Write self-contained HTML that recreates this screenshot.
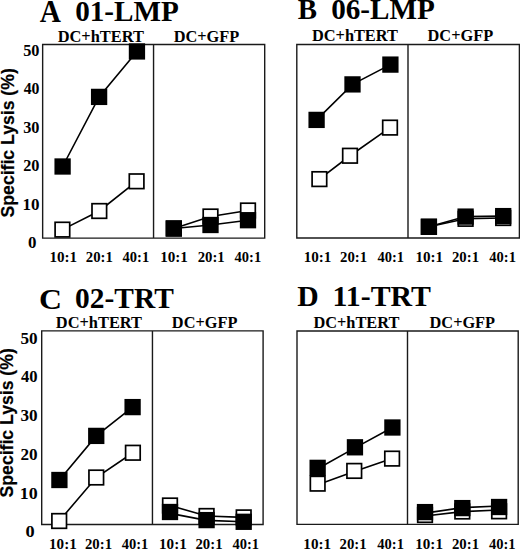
<!DOCTYPE html>
<html><head><meta charset="utf-8"><style>
html,body{margin:0;padding:0;background:#fff;width:520px;height:549px;overflow:hidden}
svg{display:block}
.S{font-family:"Liberation Serif",serif;font-weight:bold;font-size:100px;fill:#000}
.A{font-family:"Liberation Sans",sans-serif;font-weight:bold;font-size:100px;fill:#000;stroke:#000;stroke-width:0.2px;vector-effect:non-scaling-stroke}
.fr{fill:none;stroke:#1a1a1a;stroke-width:1.4}
.ln{fill:none;stroke:#000;stroke-width:1.6}
.mf{fill:#000}
.mo{fill:#fff;stroke:#000;stroke-width:1.7}
</style></head><body>
<svg width="520" height="549" viewBox="0 0 520 549">
<text class="S" transform="translate(39.71 21.90) scale(0.2930 0.3061)">A</text>
<text class="S" transform="translate(75.13 21.41) scale(0.2917 0.2940)">01-LMP</text>
<text class="S" transform="translate(297.71 19.31) scale(0.2889 0.2864)">B</text>
<text class="S" transform="translate(331.13 19.11) scale(0.2920 0.2925)">06-LMP</text>
<text class="S" transform="translate(39.11 308.50) scale(0.3183 0.3015)">C</text>
<text class="S" transform="translate(75.02 308.21) scale(0.2945 0.2925)">02-TRT</text>
<text class="S" transform="translate(297.31 306.21) scale(0.2970 0.2924)">D</text>
<text class="S" transform="translate(332.51 306.31) scale(0.2984 0.2910)">11-TRT</text>
<text class="S" transform="translate(57.67 41.64) scale(0.1641 0.1600)">DC+hTERT</text>
<text class="S" transform="translate(173.67 41.64) scale(0.1635 0.1612)">DC+GFP</text>
<text class="S" transform="translate(311.97 40.64) scale(0.1635 0.1614)">DC+hTERT</text>
<text class="S" transform="translate(427.57 40.64) scale(0.1635 0.1612)">DC+GFP</text>
<text class="S" transform="translate(55.87 327.64) scale(0.1639 0.1629)">DC+hTERT</text>
<text class="S" transform="translate(171.87 327.64) scale(0.1632 0.1612)">DC+GFP</text>
<text class="S" transform="translate(313.47 327.64) scale(0.1635 0.1600)">DC+hTERT</text>
<text class="S" transform="translate(429.57 327.64) scale(0.1632 0.1582)">DC+GFP</text>
<text class="S" transform="translate(23.15 55.53) scale(0.1630 0.1618)">50</text>
<text class="S" transform="translate(23.64 94.13) scale(0.1579 0.1618)">40</text>
<text class="S" transform="translate(23.15 132.73) scale(0.1630 0.1618)">30</text>
<text class="S" transform="translate(23.15 171.33) scale(0.1630 0.1618)">20</text>
<text class="S" transform="translate(22.44 209.93) scale(0.1705 0.1618)">10</text>
<text class="S" transform="translate(28.12 248.47) scale(0.1690 0.1632)">0</text>
<text class="S" transform="translate(20.41 343.56) scale(0.1717 0.1676)">50</text>
<text class="S" transform="translate(20.93 382.36) scale(0.1663 0.1676)">40</text>
<text class="S" transform="translate(20.41 421.16) scale(0.1717 0.1676)">30</text>
<text class="S" transform="translate(20.41 459.96) scale(0.1717 0.1676)">20</text>
<text class="S" transform="translate(19.66 498.76) scale(0.1795 0.1676)">10</text>
<text class="S" transform="translate(25.57 537.17) scale(0.1833 0.1662)">0</text>
<text class="S" transform="translate(49.44 261.99) scale(0.1512 0.1529)">10:1</text>
<text class="S" transform="translate(85.86 261.99) scale(0.1477 0.1529)">20:1</text>
<text class="S" transform="translate(122.60 261.99) scale(0.1452 0.1529)">40:1</text>
<text class="S" transform="translate(160.14 261.99) scale(0.1512 0.1529)">10:1</text>
<text class="S" transform="translate(197.66 261.99) scale(0.1477 0.1529)">20:1</text>
<text class="S" transform="translate(234.60 261.99) scale(0.1452 0.1529)">40:1</text>
<text class="S" transform="translate(303.64 261.99) scale(0.1512 0.1529)">10:1</text>
<text class="S" transform="translate(340.06 261.99) scale(0.1477 0.1529)">20:1</text>
<text class="S" transform="translate(377.50 261.99) scale(0.1452 0.1529)">40:1</text>
<text class="S" transform="translate(415.44 261.99) scale(0.1512 0.1529)">10:1</text>
<text class="S" transform="translate(451.96 261.99) scale(0.1477 0.1529)">20:1</text>
<text class="S" transform="translate(489.30 261.99) scale(0.1452 0.1529)">40:1</text>
<text class="S" transform="translate(49.04 548.59) scale(0.1512 0.1544)">10:1</text>
<text class="S" transform="translate(84.96 548.59) scale(0.1477 0.1544)">20:1</text>
<text class="S" transform="translate(121.70 548.59) scale(0.1452 0.1544)">40:1</text>
<text class="S" transform="translate(159.04 548.59) scale(0.1512 0.1544)">10:1</text>
<text class="S" transform="translate(195.46 548.59) scale(0.1477 0.1544)">20:1</text>
<text class="S" transform="translate(232.40 548.59) scale(0.1452 0.1544)">40:1</text>
<text class="S" transform="translate(303.34 548.59) scale(0.1512 0.1544)">10:1</text>
<text class="S" transform="translate(339.56 548.59) scale(0.1477 0.1544)">20:1</text>
<text class="S" transform="translate(377.30 548.59) scale(0.1452 0.1544)">40:1</text>
<text class="S" transform="translate(415.24 548.59) scale(0.1512 0.1544)">10:1</text>
<text class="S" transform="translate(451.96 548.59) scale(0.1477 0.1544)">20:1</text>
<text class="S" transform="translate(488.90 548.59) scale(0.1452 0.1544)">40:1</text>
<text class="A" transform="translate(14.18 217.43) rotate(-90) scale(0.1764)">Specific Lysis (%)</text>
<text class="A" transform="translate(13.47 497.43) rotate(-90) scale(0.1763)">Specific Lysis (%)</text>
<path class="fr" d="M42.65 44.5H264.7V238.1H42.65ZM153.55 44.5V238.1"/>
<path class="fr" d="M296.8 44.5H519.4V238.0H296.8ZM408.0 44.5V238.0"/>
<path class="fr" d="M41.7 330.9H263.1V524.5H41.7ZM152.45 330.9V524.5"/>
<path class="fr" d="M297.0 331.0H518.2V524.4H297.0ZM407.5 331.0V524.4"/>
<path class="ln" d="M62.4 229.6 L99.3 211.0 L136.6 181.3"/>
<path class="ln" d="M62.6 166.5 L99.1 96.9 L136.95 51.45"/>
<path class="ln" d="M173.8 228.5 L210.5 216.5 L248.0 210.5"/>
<path class="ln" d="M173.8 228.5 L210.5 225.0 L248.0 220.2"/>
<rect class="mo" x="55.10" y="222.30" width="14.60" height="14.60"/>
<rect class="mo" x="92.00" y="203.70" width="14.60" height="14.60"/>
<rect class="mo" x="129.30" y="174.00" width="14.60" height="14.60"/>
<rect class="mf" x="54.45" y="158.35" width="16.3" height="16.3"/>
<rect class="mf" x="90.95" y="88.75" width="16.3" height="16.3"/>
<rect class="mf" x="128.80" y="43.30" width="16.3" height="16.3"/>
<rect class="mo" x="166.50" y="221.20" width="14.60" height="14.60"/>
<rect class="mo" x="203.20" y="209.20" width="14.60" height="14.60"/>
<rect class="mo" x="240.70" y="203.20" width="14.60" height="14.60"/>
<rect class="mf" x="165.65" y="220.35" width="16.3" height="16.3"/>
<rect class="mf" x="202.35" y="216.85" width="16.3" height="16.3"/>
<rect class="mf" x="239.85" y="212.05" width="16.3" height="16.3"/>
<path class="ln" d="M319.4 179.1 L350.0 155.75 L390.0 127.6"/>
<path class="ln" d="M316.6 119.9 L352.5 84.4 L390.4 64.6"/>
<path class="ln" d="M428.9 226.8 L465.6 218.8 L503.2 218.0"/>
<path class="ln" d="M428.9 226.8 L465.6 216.6 L503.2 216.1"/>
<rect class="mo" x="312.10" y="171.80" width="14.60" height="14.60"/>
<rect class="mo" x="342.70" y="148.45" width="14.60" height="14.60"/>
<rect class="mo" x="382.70" y="120.30" width="14.60" height="14.60"/>
<rect class="mf" x="308.45" y="111.75" width="16.3" height="16.3"/>
<rect class="mf" x="344.35" y="76.25" width="16.3" height="16.3"/>
<rect class="mf" x="382.25" y="56.45" width="16.3" height="16.3"/>
<rect class="mo" x="421.60" y="219.50" width="14.60" height="14.60"/>
<rect class="mo" x="458.30" y="211.50" width="14.60" height="14.60"/>
<rect class="mo" x="495.90" y="210.70" width="14.60" height="14.60"/>
<rect class="mf" x="420.75" y="218.65" width="16.3" height="16.3"/>
<rect class="mf" x="457.45" y="208.45" width="16.3" height="16.3"/>
<rect class="mf" x="495.05" y="207.95" width="16.3" height="16.3"/>
<path class="ln" d="M59.2 521.0 L96.25 477.5 L132.9 452.75"/>
<path class="ln" d="M59.4 480.0 L96.25 435.9 L132.6 407.1"/>
<path class="ln" d="M170.0 505.5 L206.6 516.0 L243.7 517.4"/>
<path class="ln" d="M170.0 513.4 L206.6 520.4 L243.7 521.8"/>
<rect class="mo" x="51.90" y="513.70" width="14.60" height="14.60"/>
<rect class="mo" x="88.95" y="470.20" width="14.60" height="14.60"/>
<rect class="mo" x="125.60" y="445.45" width="14.60" height="14.60"/>
<rect class="mf" x="51.25" y="471.85" width="16.3" height="16.3"/>
<rect class="mf" x="88.10" y="427.75" width="16.3" height="16.3"/>
<rect class="mf" x="124.45" y="398.95" width="16.3" height="16.3"/>
<rect class="mo" x="162.70" y="498.20" width="14.60" height="14.60"/>
<rect class="mo" x="199.30" y="508.70" width="14.60" height="14.60"/>
<rect class="mo" x="236.40" y="510.10" width="14.60" height="14.60"/>
<rect class="mf" x="161.85" y="503.85" width="16.3" height="16.3"/>
<rect class="mf" x="198.45" y="511.95" width="16.3" height="16.3"/>
<rect class="mf" x="235.55" y="513.65" width="16.3" height="16.3"/>
<path class="ln" d="M317.65 484.8 L354.25 471.6 L392.1 458.6"/>
<path class="ln" d="M317.65 468.8 L354.95 447.9 L392.4 427.5"/>
<path class="ln" d="M425.0 516.0 L462.3 511.6 L499.1 509.95"/>
<path class="ln" d="M425.0 513.1 L462.3 507.65 L499.1 506.05"/>
<rect class="mo" x="310.35" y="476.35" width="14.60" height="14.60"/>
<rect class="mo" x="346.95" y="463.60" width="14.60" height="14.60"/>
<rect class="mo" x="384.80" y="451.30" width="14.60" height="14.60"/>
<rect class="mf" x="309.50" y="459.70" width="16.3" height="16.3"/>
<rect class="mf" x="346.80" y="439.15" width="16.3" height="16.3"/>
<rect class="mf" x="384.25" y="419.35" width="16.3" height="16.3"/>
<rect class="mo" x="417.70" y="507.70" width="14.60" height="14.60"/>
<rect class="mo" x="455.00" y="504.20" width="14.60" height="14.60"/>
<rect class="mo" x="491.80" y="504.00" width="14.60" height="14.60"/>
<rect class="mf" x="416.85" y="503.95" width="16.3" height="16.3"/>
<rect class="mf" x="454.15" y="499.95" width="16.3" height="16.3"/>
<rect class="mf" x="490.95" y="498.85" width="16.3" height="16.3"/>
</svg>
</body></html>
